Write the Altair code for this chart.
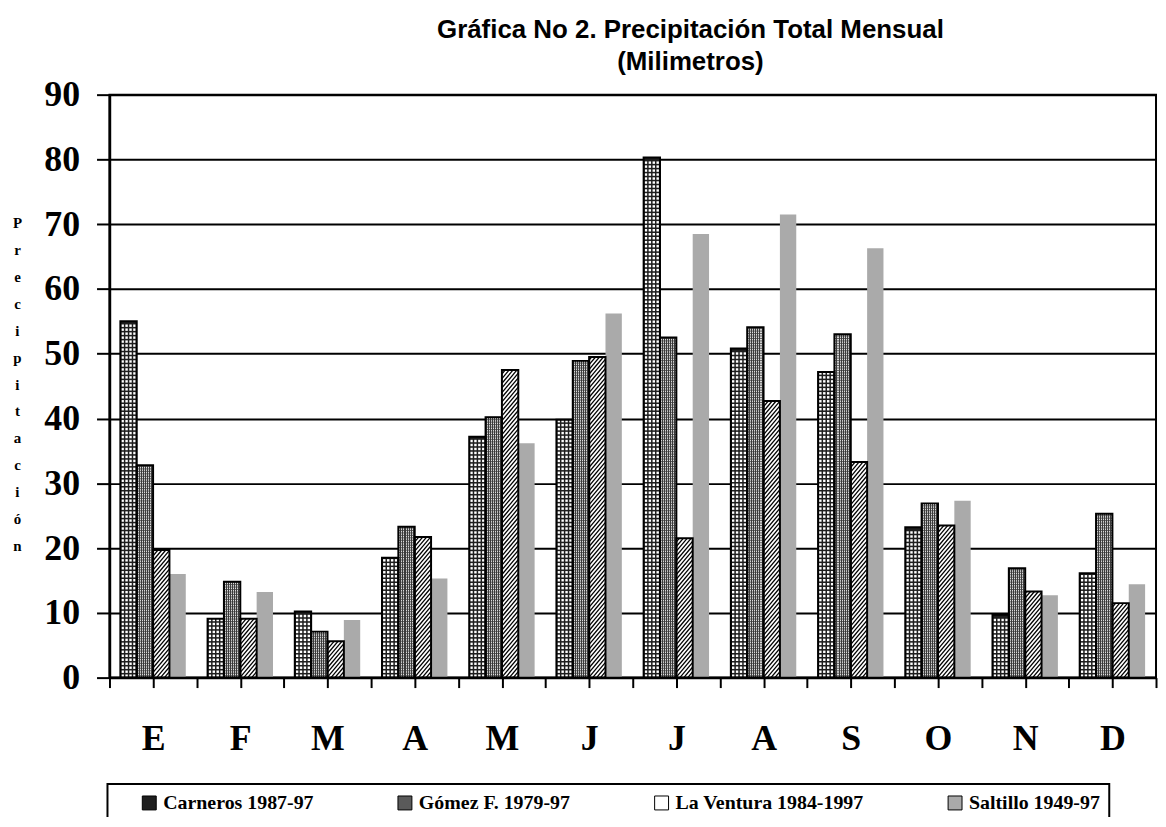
import altair as alt
import pandas as pd

months = ["E", "F", "M", "A", "M", "J", "J", "A", "S", "O", "N", "D"]
series = ["Carneros 1987-97", "Gómez F. 1979-97", "La Ventura 1984-1997", "Saltillo 1949-97"]
carneros = [55.0, 9.1, 10.2, 18.5, 37.2, 39.8, 80.3, 50.8, 47.2, 23.2, 9.7, 16.1]
gomez = [32.8, 14.8, 7.1, 23.3, 40.2, 48.9, 52.5, 54.1, 53.0, 26.9, 16.9, 25.3]
ventura = [19.7, 9.1, 5.6, 21.7, 47.5, 49.5, 21.5, 42.7, 33.3, 23.5, 13.3, 11.5]
saltillo = [16.0, 13.2, 8.9, 15.3, 36.2, 56.2, 68.5, 71.5, 66.3, 27.3, 12.7, 14.4]
title_lines = ["Gráfica No 2. Precipitación Total Mensual", "(Milimetros)"]
y_title = "Precipitación"

rows = []
for j, vals in enumerate([carneros, gomez, ventura, saltillo]):
    for i, v in enumerate(vals):
        rows.append({"mi": i, "si": j, "serie": series[j], "v": v})
df = pd.DataFrame(rows)

fills = ["#1e1e1e", "#5a5a5a", "#ffffff", "#aaaaaa"]
SERIF = "Liberation Serif"

xs = alt.Scale(domain=[0, 12], nice=False, zero=False)
ys = alt.Scale(domain=[0, 90], nice=False)

month_arr = "[" + ",".join("'" + m + "'" for m in months) + "]"
label_expr = "abs(datum.value % 1 - 0.5) < 0.01 ? " + month_arr + "[floor(datum.value)] : ''"

base = alt.Chart(df).transform_calculate(
    x0="datum.mi + 0.125 + datum.si * 0.1875",
    x1="datum.mi + 0.125 + (datum.si + 1) * 0.1875",
)

x_axis = alt.Axis(
    values=[k * 0.5 for k in range(25)], labelExpr=label_expr, tickSize=10, tickWidth=2,
    tickColor="black", domainColor="black", domainWidth=2.5, grid=False,
    labelFont=SERIF, labelFontSize=36, labelFontWeight="bold", labelColor="black",
    labelPadding=34, labelOverlap=False, labelFlush=False, zindex=1,
)
y_axis = alt.Axis(
    values=list(range(0, 91, 10)), tickSize=13, tickWidth=2, tickColor="black",
    domainColor="black", domainWidth=2.5, grid=True, gridColor="black", gridWidth=2,
    labelFont=SERIF, labelFontSize=36, labelFontWeight="bold", labelColor="black",
    labelPadding=17, labelBaseline="middle",
    titleAngle=0, titleFont=SERIF, titleFontSize=15,
    titleFontWeight="bold", titleColor="black", titleLineHeight=27,
    titleX=-93, titleY=122, titleAlign="center", titleBaseline="top",
)

legend = alt.Legend(
    title=None, orient="none", legendX=-2, legendY=693, direction="horizontal",
    columns=4, symbolType="square", symbolSize=196, symbolStrokeColor="black",
    symbolStrokeWidth=1, symbolOffset=23, labelFont=SERIF, labelFontSize=20,
    labelFontWeight="bold", labelColor="black", labelOffset=4, columnPadding=58,
    padding=9, strokeColor="black", labelLimit=400,
)

bars = base.mark_rect().encode(
    x=alt.X("x0:Q", scale=xs, axis=x_axis, title=None),
    x2="x1:Q",
    y=alt.Y("v:Q", scale=ys, axis=y_axis, title=list(y_title)),
    y2=alt.datum(0),
    color=alt.Color("serie:N", scale=alt.Scale(domain=series, range=fills), legend=legend),
)

stops = []
n = 8
for p in range(n):
    a = p / n
    b = (p + 0.5) / n
    c = (p + 1) / n
    stops += [
        alt.GradientStop(color="#3c3c3c", offset=a),
        alt.GradientStop(color="#3c3c3c", offset=b),
        alt.GradientStop(color="#dcdcdc", offset=b),
        alt.GradientStop(color="#dcdcdc", offset=c),
    ]
grad = alt.LinearGradient(gradient="linear", stops=stops, x1=0, x2=1, y1=0, y2=0)

gbar = base.transform_filter("datum.si == 1").mark_rect(fill=grad).encode(
    x=alt.X("x0:Q", scale=xs, title=None), x2="x1:Q",
    y=alt.Y("v:Q", scale=ys, title=list(y_title)), y2=alt.datum(0),
)

grows = base.transform_filter("datum.si == 1").transform_calculate(
    r="sequence(0.3, datum.v, 0.38)"
).transform_flatten(["r"]).mark_rule(color="#3a3a3a", strokeWidth=0.8).encode(
    x=alt.X("x0:Q", scale=xs, title=None), x2="x1:Q",
    y=alt.Y("r:Q", scale=ys, title=list(y_title)),
)

dots = base.transform_filter("datum.si == 0").transform_calculate(
    rr="sequence(0.3, datum.v - 0.2, 0.614)"
).transform_flatten(["rr"]).transform_calculate(
    cc="[0.14, 0.38, 0.62, 0.86]"
).transform_flatten(["cc"]).transform_calculate(
    dx="datum.x0 + datum.cc * 0.1875"
).mark_square(size=6, color="white", opacity=1).encode(
    x=alt.X("dx:Q", scale=xs, title=None),
    y=alt.Y("rr:Q", scale=ys, title=list(y_title)),
)

R = "3.0"
hatch = base.transform_filter("datum.si == 2").transform_calculate(
    k="sequence(-2.8, datum.v, 0.72)"
).transform_flatten(["k"]).transform_calculate(
    hx0="datum.k < 0 ? datum.x0 + (-datum.k / " + R + ") * 0.1875 : datum.x0",
    hy0="max(datum.k, 0)",
    hx1="datum.k + " + R + " > datum.v ? datum.x0 + ((datum.v - datum.k) / " + R + ") * 0.1875 : datum.x1",
    hy1="min(datum.k + " + R + ", datum.v)",
).transform_filter("datum.hy1 > datum.hy0").mark_rule(color="black", strokeWidth=1.3).encode(
    x=alt.X("hx0:Q", scale=xs, title=None), x2="hx1:Q",
    y=alt.Y("hy0:Q", scale=ys, title=list(y_title)), y2="hy1:Q",
)

outline = base.transform_filter("datum.si < 3").mark_rect(
    fillOpacity=0, stroke="black", strokeWidth=2
).encode(
    x=alt.X("x0:Q", scale=xs, title=None), x2="x1:Q",
    y=alt.Y("v:Q", scale=ys, title=list(y_title)), y2=alt.datum(0),
)

chart = alt.layer(bars, gbar, grows, dots, hatch, outline).properties(
    width=1052, height=586,
    autosize=alt.AutoSizeParams(type="none"),
    padding={"left": 102, "top": 85, "right": 2, "bottom": 138},
    background="white",
    title=alt.TitleParams(
        text=title_lines, fontSize=26, font="Liberation Sans", fontWeight="bold",
        color="black", anchor="middle", frame="group", dx=58, offset=2, lineHeight=32,
    ),
).configure_view(stroke="black", strokeWidth=2).configure_legend(strokeWidth=2)

chart.save("out.html", embed_options={"renderer": "svg", "actions": False})
